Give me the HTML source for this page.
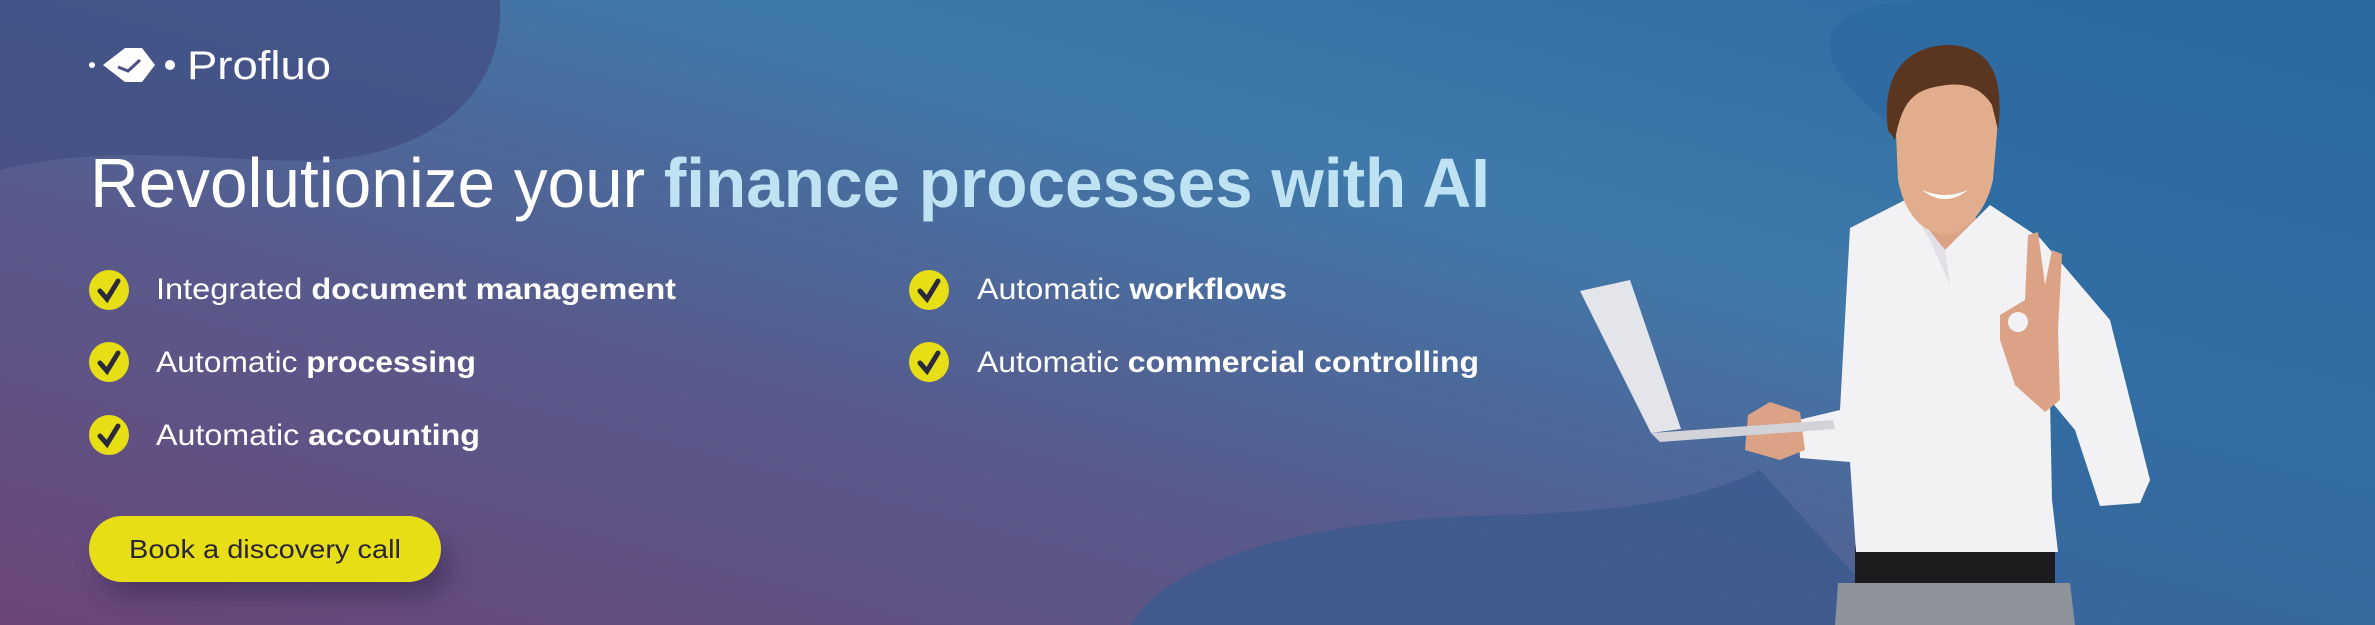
<!DOCTYPE html>
<html><head><meta charset="utf-8"><style>
html,body{margin:0;padding:0;width:2375px;height:625px;overflow:hidden}
svg{display:block}
text{font-family:"Liberation Sans",sans-serif}
</style></head><body>
<svg width="2375" height="625" viewBox="0 0 2375 625" xmlns="http://www.w3.org/2000/svg">
<defs>
<linearGradient id="bg" x1="0" y1="1" x2="1" y2="0">
<stop offset="0" stop-color="#6b4679"/>
<stop offset="0.35" stop-color="#585a8c"/>
<stop offset="0.65" stop-color="#3f79aa"/>
<stop offset="1" stop-color="#2a6aa3"/>
</linearGradient>
<filter id="sh" x="-30%" y="-30%" width="160%" height="200%"><feGaussianBlur stdDeviation="12"/></filter>
</defs>
<rect width="2375" height="625" fill="url(#bg)"/>
<path d="M0 0 H500 C505 90 440 150 330 160 C230 165 120 140 0 170 Z" fill="#434d82" opacity="0.75"/>
<path d="M1950 0 H2375 V625 H1850 C1900 500 2000 420 2000 300 C2000 160 1820 110 1830 40 C1835 10 1880 0 1950 0Z" fill="#2a68a0" opacity="0.6"/>
<path d="M1130 625 C1170 560 1300 520 1500 515 C1620 512 1700 500 1760 470 L1900 625Z" fill="#3b5a8c" opacity="0.8"/>
<!-- logo -->
<circle cx="92" cy="65" r="3" fill="#fff"/>
<path d="M103 65 L125 48 H142 L155 65 L142 82 H125 Z" fill="#fff"/>
<path d="M118 67 L128 71 L140 60" stroke="#4a4f86" stroke-width="3" fill="none"/>
<circle cx="170" cy="65" r="5" fill="#fff"/>
<text x="187" y="79" font-size="40" fill="#fff" textLength="144" lengthAdjust="spacingAndGlyphs">Profluo</text>
<!-- headline -->
<text x="90" y="207" font-size="70" fill="#fff" textLength="1400" lengthAdjust="spacingAndGlyphs">Revolutionize your <tspan fill="#bfe3f2" font-weight="bold">finance processes with AI</tspan></text>
<!-- checks -->
<g fill="#e8de16">
<circle cx="109" cy="290" r="20"/><circle cx="109" cy="362" r="20"/><circle cx="109" cy="435" r="20"/>
<circle cx="929" cy="290" r="20"/><circle cx="929" cy="362" r="20"/>
</g>
<g stroke="#2a2a3a" stroke-width="5" fill="none" stroke-linecap="round">
<path d="M100 291 L107 299 L118 281"/><path d="M100 363 L107 371 L118 353"/><path d="M100 436 L107 444 L118 426"/>
<path d="M920 291 L927 299 L938 281"/><path d="M920 363 L927 371 L938 353"/>
</g>
<g font-size="30" fill="#fff">
<text x="156" y="299" textLength="520" lengthAdjust="spacingAndGlyphs">Integrated <tspan font-weight="bold">document management</tspan></text>
<text x="156" y="372" textLength="320" lengthAdjust="spacingAndGlyphs">Automatic <tspan font-weight="bold">processing</tspan></text>
<text x="156" y="445" textLength="324" lengthAdjust="spacingAndGlyphs">Automatic <tspan font-weight="bold">accounting</tspan></text>
<text x="977" y="299" textLength="310" lengthAdjust="spacingAndGlyphs">Automatic <tspan font-weight="bold">workflows</tspan></text>
<text x="977" y="372" textLength="502" lengthAdjust="spacingAndGlyphs">Automatic <tspan font-weight="bold">commercial controlling</tspan></text>
</g>
<!-- button -->
<rect x="100" y="535" width="350" height="62" rx="31" fill="#3a2a55" opacity="0.6" filter="url(#sh)"/>
<rect x="89" y="516" width="352" height="66" rx="33" fill="#e8de16"/>
<text x="129" y="558" font-size="26" fill="#2a2535" textLength="272" lengthAdjust="spacingAndGlyphs">Book a discovery call</text>
<!-- person -->
<g>
<path d="M1838 583 H2070 L2075 625 H1835Z" fill="#8e9299"/>
<rect x="1855" y="545" width="200" height="38" fill="#1c1c1f"/>
<path d="M1915 200 L1975 200 L1978 265 L1918 265Z" fill="#dba286"/>
<path d="M1850 228 L1905 200 L1945 250 L1990 205 L2040 238 L2110 320 L2150 480 L2140 503 L2100 506 L2075 430 L2050 400 L2052 500 L2058 552 L1856 552 L1850 462 L1800 458 L1798 420 L1840 410 Z" fill="#f2f2f4"/>
<path d="M1905 200 L1945 250 L1950 285 L1930 240 Z M1990 205 L1945 250 L1960 235Z" fill="#e0e0e6"/>
<path d="M1895 110 C1893 60 1920 48 1948 48 C1985 48 2000 75 1998 120 L1993 180 C1985 215 1965 232 1945 235 C1922 232 1905 215 1898 180 Z" fill="#e2ad8c"/>
<path d="M1888 130 C1880 65 1915 45 1950 45 C1990 47 2005 75 1998 130 L1992 105 C1980 85 1960 82 1940 86 C1915 90 1902 100 1895 140Z" fill="#5a3520"/>
<path d="M1922 190 Q1945 208 1968 190 Q1945 200 1922 190Z" fill="#fff"/>
<path d="M2028 235 L2038 232 L2045 285 L2052 250 L2062 254 L2058 330 L2060 400 L2045 412 L2015 385 L2000 340 L2000 315 L2025 300 Z" fill="#dba286"/>
<circle cx="2018" cy="322" r="10" fill="#f2f2f4"/>
<path d="M1748 415 L1770 402 L1800 412 L1805 450 L1780 460 L1745 450Z" fill="#dba286"/>
<path d="M1580 291 L1630 280 L1681 429 L1651 433Z" fill="#e4e5ea"/>
<path d="M1651 433 L1833 420 L1835 429 L1660 442Z" fill="#d2d3d8"/>
</g>
</svg>
</body></html>
